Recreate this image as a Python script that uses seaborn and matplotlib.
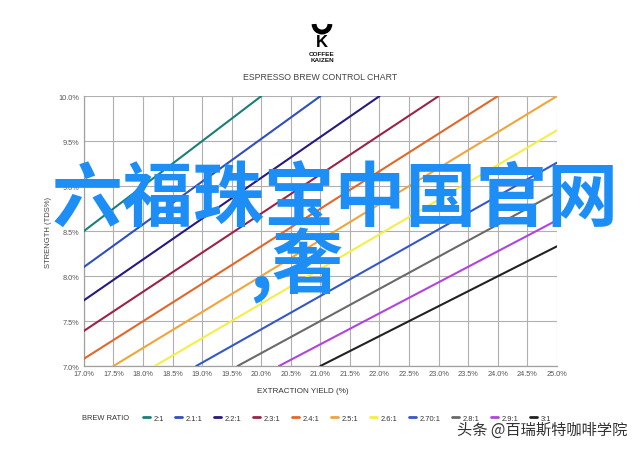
import matplotlib
matplotlib.use("Agg")
import matplotlib.pyplot as plt
from matplotlib.patches import Arc
import seaborn as sns
import pandas as pd

# brew ratio lines, endpoints (EY %, TDS %)
ratios = ["2:1", "2.1:1", "2.2:1", "2.3:1", "2.4:1", "2.5:1",
          "2.6:1", "2.70:1", "2.8:1", "2.9:1", "3:1"]
ey_start = [17.0, 17.0, 17.0, 17.0, 17.0, 17.5, 18.2, 18.9, 19.6, 20.3, 21.0]
tds_start = [8.5, 8.1, 7.73, 7.39, 7.08, 7.0, 7.0, 7.0, 7.0, 7.0, 7.0]
ey_end = [20.0, 21.0, 22.0, 23.0, 24.0, 25.0, 25.0, 25.0, 25.0, 25.0, 25.0]
tds_end = [10.0, 10.0, 10.0, 10.0, 10.0, 10.0, 9.62, 9.26, 8.93, 8.62, 8.33]
colors = ["#1b7f78", "#2f4fbf", "#2a1880", "#9c2348", "#e2672a", "#f0a53a",
          "#f4ef45", "#3558c8", "#6a6a6a", "#b044e0", "#222222"]

x_ticks = [17.0 + 0.5 * i for i in range(17)]
y_ticks = [7.0 + 0.5 * i for i in range(7)]

rows = []
for r, x0, y0, x1, y1 in zip(ratios, ey_start, tds_start, ey_end, tds_end):
    rows.append({"ratio": r, "ey": x0, "tds": y0})
    rows.append({"ratio": r, "ey": x1, "tds": y1})
df = pd.DataFrame(rows)

sns.set_style("white")
plt.rcParams['font.family'] = ['Liberation Sans', 'DejaVu Sans']

fig = plt.figure(figsize=(6.4, 4.52), dpi=100)
ax = fig.add_axes([0.131, 0.188, 0.739, 0.597])

sns.lineplot(data=df, x="ey", y="tds", hue="ratio", hue_order=ratios,
             palette=dict(zip(ratios, colors)), linewidth=1.5, ax=ax,
             legend=False, zorder=3)

ax.set_xlim(17.0, 25.0)
ax.set_ylim(7.0, 10.0)
ax.set_xticks(x_ticks)
ax.set_yticks(y_ticks)
ax.set_xticklabels(["%.1f%%" % v for v in x_ticks])
ax.set_yticklabels(["%.1f%%" % v for v in y_ticks])
ax.tick_params(axis="both", length=0, labelsize=5.3, labelcolor="#555555", pad=3)
ax.grid(True, color="#b0b0b0", linewidth=0.8)
for side in ["top", "right"]:
    ax.spines[side].set_visible(False)
for side in ["left", "bottom"]:
    ax.spines[side].set_color("#a0a0a0")
    ax.spines[side].set_linewidth(0.9)
ax.set_xlabel("")
ax.set_ylabel("STRENGTH (TDS%)", fontsize=5.5, color="#444444", labelpad=5)
fig.text(303 / 640, 1 - 392 / 452, "EXTRACTION YIELD (%)", fontsize=5.8,
         color="#333333", ha="center", va="center")

# header: logo + title
logo_ax = fig.add_axes([300 / 640, 1 - 50 / 452, 44 / 640, 32 / 452])
logo_ax.set_xlim(0, 1)
logo_ax.set_ylim(0, 1)
logo_ax.axis("off")
logo_ax.add_patch(Arc((0.5, 0.78), 0.36, 0.5, theta1=180, theta2=360,
                      linewidth=3.5, color="black"))
logo_ax.text(0.5, 0.22, "K", fontsize=12, fontweight="bold", ha="center",
             va="center", color="black")
fig.text(322 / 640, 1 - 54 / 452, "COFFEE", fontsize=4.6, fontweight="bold",
         ha="center", va="center", color="#111111")
fig.text(322 / 640, 1 - 61 / 452, "KAIZEN", fontsize=4.6, fontweight="bold",
         ha="center", va="center", color="#111111")
fig.text(320 / 640, 1 - 78 / 452, "ESPRESSO BREW CONTROL CHART", fontsize=6.3,
         ha="center", va="center", color="#444444")

# legend row
fig.text(82 / 640, 1 - 419 / 452, "BREW RATIO", fontsize=5.4,
         ha="left", va="center", color="#333333")
handles = [plt.Line2D([0], [0], color=c, linewidth=2) for c in colors]
fig.legend(handles, ratios, loc="center left",
           bbox_to_anchor=(136 / 640, 1 - 419 / 452), ncol=11, frameon=False,
           fontsize=5.4, handlelength=0.9, handletextpad=0.5,
           columnspacing=1.55, labelcolor="#333333")

# overlay texts
cjk = ['Noto Sans CJK SC', 'DejaVu Sans']
fig.text(335 / 640, 1 - 200 / 452, "六福珠宝中国官网", fontsize=51,
         fontweight="bold", family=cjk, color="#1e8ef7",
         ha="center", va="center", zorder=10)
fig.text(296 / 640, 1 - 266 / 452, ",奢", fontsize=51, fontweight="bold",
         family=cjk, color="#1e8ef7", ha="center", va="center", zorder=10)
fig.text(627 / 640, 1 - 430 / 452, "头条 @百瑞斯特咖啡学院", fontsize=11,
         family=cjk, color="#333333", ha="right", va="center", zorder=10)

fig.savefig("out.png", dpi=100)
